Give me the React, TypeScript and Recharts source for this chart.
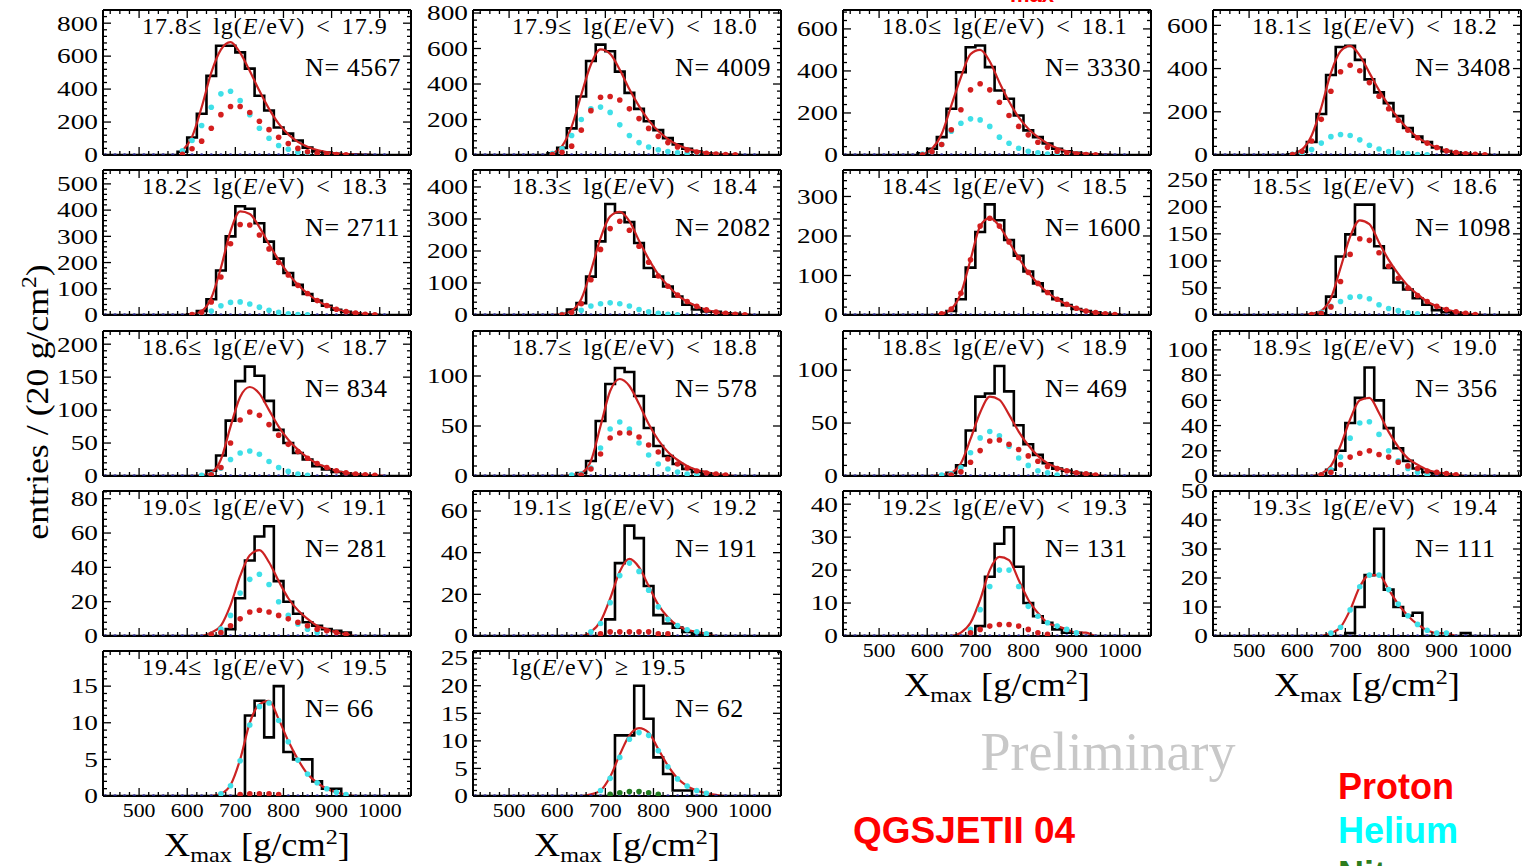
import React from 'react';
import { ComposedChart, Line, Scatter, XAxis, YAxis } from 'recharts';

// bin centres (20 g/cm2 bins) shared by every panel
const binCenters = [590, 610, 630, 650, 670, 690, 710, 730, 750, 770, 790, 810, 830, 850, 870, 890, 910, 930, 950, 970, 990, 1010];
// dark baseline markers (heavier components, ~0 everywhere)
const baseDotX = [430, 450, 470, 490, 510, 530, 550, 570, 590, 610, 630, 650, 670, 690, 710, 730, 750, 770, 790, 810, 830, 850, 870, 890, 910, 930, 950, 970, 990, 1010];
const baseDotY = [0, 0, 0, 0, 0, 0, 0, 0, 0, 0, 0, 0, 0, 0, 0, 0, 0, 0, 0, 0, 0, 0, 0, 0, 0, 0, 0, 0, 0, 0];

const energyEdges = ['17.8', '17.9', '18.0', '18.1', '18.2', '18.3', '18.4', '18.5', '18.6', '18.7', '18.8', '18.9', '19.0', '19.1', '19.2', '19.3', '19.4', '19.5'];
const eventCounts = [4567, 4009, 3330, 3408, 2711, 2082, 1600, 1098, 834, 578, 469, 356, 281, 191, 131, 111, 66, 62];
const yMax = [880, 817, 690, 671, 553, 453, 367, 268, 220, 145, 137, 115, 84.5, 69.6, 44, 50, 19.8, 26.3];
const yStep = [200, 200, 200, 200, 100, 100, 100, 50, 50, 50, 50, 20, 20, 20, 10, 10, 5, 5];
const xTickLabels = [500, 600, 700, 800, 900, 1000];

const histogram = [
  [20, 106, 250, 480, 663, 663, 623, 524, 360, 270, 167, 130, 88, 45, 22, 15, 8, 5, 3, 1, 0, 0],
  [10, 40, 150, 330, 530, 622, 585, 470, 350, 260, 190, 140, 95, 60, 35, 20, 10, 5, 3, 1, 0, 0],
  [8, 30, 85, 220, 394, 513, 521, 418, 307, 268, 188, 117, 85, 55, 30, 18, 10, 5, 3, 1, 0, 0],
  [3, 15, 60, 190, 370, 500, 505, 440, 350, 290, 240, 180, 125, 85, 60, 35, 18, 10, 5, 2, 1, 0],
  [0, 3, 15, 60, 170, 300, 415, 405, 350, 280, 215, 160, 115, 80, 55, 35, 20, 12, 6, 3, 1, 0],
  [0, 0, 17, 37, 120, 230, 347, 320, 290, 225, 147, 120, 89, 58, 32, 17, 11, 10, 5, 4, 1, 0],
  [0, 0, 0, 10, 40, 120, 210, 280, 240, 190, 150, 110, 80, 60, 40, 25, 15, 10, 6, 3, 1, 0],
  [0, 0, 0, 3, 34, 108, 149, 204, 204, 127, 87, 60, 47, 31, 19, 9, 5, 3, 0, 0, 0, 0],
  [0, 0, 0, 8, 31, 84, 144, 166, 152, 114, 70, 50, 35, 25, 15, 10, 6, 4, 2, 1, 0, 0],
  [0, 0, 0, 3, 15, 55, 92, 108, 104, 80, 48, 30, 20, 12, 7, 4, 2, 0, 0, 0, 0, 0],
  [0, 0, 0, 3, 10, 43, 75, 78, 104, 80, 48, 30, 20, 12, 7, 5, 3, 2, 0, 0, 0, 0],
  [0, 0, 0, 0, 5, 20, 42, 62, 86, 60, 38, 22, 12, 6, 3, 2, 0, 0, 0, 0, 0, 0],
  [0, 0, 0, 0, 0, 4, 22, 44, 58, 64, 32, 20, 13, 8, 6, 4, 3, 2, 0, 0, 0, 0],
  [0, 0, 0, 0, 0, 0, 8, 35, 53, 47, 24, 10, 6, 4, 2, 1, 1, 0, 0, 0, 0, 0],
  [0, 0, 0, 0, 0, 0, 3, 18, 28, 33, 21, 10, 6, 4, 2, 1, 1, 0, 0, 0, 0, 0],
  [0, 0, 0, 0, 0, 0, 1, 10, 21, 37, 16, 10, 7, 8, 0, 0, 0, 0, 1, 0, 0, 0],
  [0, 0, 0, 0, 0, 0, 0, 11, 13, 8, 15, 6, 5, 5, 2, 1, 1, 0, 0, 0, 0, 0],
  [0, 0, 0, 0, 0, 0, 0, 11, 11, 20, 14, 7, 4, 1, 1, 0, 0, 0, 0, 0, 0, 0],
];

const fitTotal = [
  [25, 110, 290, 500, 640, 685, 620, 510, 390, 280, 190, 125, 80, 50, 30, 17, 9, 5, 2, 1, 0, 0],
  [10, 50, 160, 340, 510, 595, 570, 480, 370, 275, 195, 135, 90, 58, 36, 22, 12, 6, 3, 1, 0, 0],
  [5, 30, 100, 235, 370, 480, 500, 445, 345, 255, 180, 125, 85, 55, 32, 18, 10, 5, 2, 1, 0, 0],
  [5, 25, 90, 220, 380, 480, 505, 460, 380, 300, 230, 170, 120, 82, 55, 35, 20, 11, 6, 3, 1, 0],
  [0, 3, 15, 65, 180, 320, 395, 385, 335, 270, 210, 158, 115, 82, 55, 36, 22, 13, 7, 3, 1, 0],
  [0, 3, 13, 50, 138, 240, 308, 322, 293, 232, 175, 127, 92, 62, 42, 27, 16, 9, 5, 2, 1, 0],
  [0, 0, 3, 15, 55, 140, 225, 245, 225, 185, 145, 108, 80, 57, 40, 27, 17, 10, 6, 3, 1, 0],
  [0, 0, 2, 8, 31, 87, 145, 175, 168, 134, 102, 76, 54, 38, 25, 16, 10, 6, 3, 1, 0, 0],
  [0, 0, 1, 5, 25, 75, 120, 135, 125, 100, 75, 55, 40, 28, 19, 13, 8, 5, 3, 2, 1, 0],
  [0, 0, 1, 3, 15, 50, 85, 97, 90, 72, 52, 36, 24, 16, 10, 6, 4, 2, 1, 0, 0, 0],
  [0, 0, 1, 3, 12, 35, 60, 75, 72, 58, 42, 29, 19, 12, 8, 5, 3, 2, 1, 0, 0, 0],
  [0, 0, 0, 2, 8, 24, 45, 60, 62, 50, 35, 23, 14, 9, 5, 3, 2, 1, 0, 0, 0, 0],
  [0, 0, 0, 2, 6, 18, 35, 47, 50, 43, 32, 22, 15, 10, 6, 4, 2, 1, 0, 0, 0, 0],
  [0, 0, 0, 0, 2, 7, 18, 31, 37, 33, 24, 15, 9, 5, 3, 2, 1, 0, 0, 0, 0, 0],
  [0, 0, 0, 0, 1, 4, 11, 20, 24, 23, 17, 11, 7, 4, 3, 2, 1, 1, 0, 0, 0, 0],
  [0, 0, 0, 0, 1, 3, 9, 17, 21, 21, 16, 11, 7, 4, 2, 1, 1, 0, 0, 0, 0, 0],
  [0, 0, 0, 0, 0.3, 1.5, 5, 10, 12.5, 13, 10.5, 7.5, 5, 3, 1.8, 1, 0.5, 0.2, 0, 0, 0, 0],
  [0, 0, 0, 0, 0.3, 1, 3.5, 7.5, 11, 12.3, 11.5, 8.5, 5.5, 3.2, 1.8, 1, 0.5, 0.2, 0, 0, 0, 0],
];

const protonComp = [
  [5, 38, 84, 162, 245, 294, 294, 258, 205, 154, 108, 70, 40, 20, 10, 5, 2, 1, 0, 0, 0, 0],
  [2, 15, 50, 140, 250, 325, 330, 310, 260, 205, 150, 105, 70, 45, 28, 17, 10, 5, 2, 1, 0, 0],
  [1, 15, 50, 120, 215, 310, 339, 310, 251, 188, 136, 96, 61, 37, 18, 9, 5, 2, 1, 0, 0, 0],
  [2, 17, 65, 165, 295, 385, 415, 390, 335, 272, 214, 161, 115, 80, 55, 35, 20, 11, 6, 3, 1, 0],
  [0, 2, 10, 50, 145, 272, 345, 343, 305, 252, 200, 153, 113, 82, 55, 36, 22, 13, 7, 3, 1, 0],
  [0, 1, 8, 35, 110, 205, 270, 293, 265, 215, 165, 122, 90, 62, 42, 27, 16, 9, 5, 2, 1, 0],
  [0, 0, 3, 15, 55, 140, 225, 245, 225, 185, 145, 108, 80, 57, 40, 27, 17, 10, 6, 3, 1, 0],
  [0, 0, 1, 3, 15, 62, 112, 141, 138, 115, 90, 68, 50, 36, 25, 16, 10, 6, 3, 1, 0, 0],
  [0, 0, 0, 2, 13, 50, 85, 97, 92, 78, 62, 48, 37, 27, 19, 13, 8, 5, 3, 2, 1, 0],
  [0, 0, 0, 1, 7, 22, 38, 43, 43, 39, 31, 24, 17, 12, 8, 5, 3, 2, 1, 0, 0, 0],
  [0, 0, 0, 1, 4, 13, 24, 33, 34, 30, 25, 19, 14, 9, 7, 5, 3, 2, 1, 0, 0, 0],
  [0, 0, 0, 1, 3, 9, 15, 18, 20, 17, 15, 11, 8, 6, 4, 3, 2, 1, 0, 0, 0, 0],
  [0, 0, 0, 1, 2, 6, 10, 14, 15, 14, 12, 10, 8, 6, 4, 3, 2, 1, 0, 0, 0, 0],
  [0, 0, 0, 0, 0, 1, 2, 2, 2, 2, 2, 1, 1, 0, 0, 0, 0, 0, 0, 0, 0, 0],
  [0, 0, 0, 0, 0, 1, 2, 3, 3.5, 3.5, 3, 2, 1, 0.5, 0, 0, 0, 0, 0, 0, 0, 0],
  [0, 0, 0, 0, 0, 0, 0, 0, 0, 0, 0, 0, 0, 0, 0, 0, 0, 0, 0, 0, 0, 0],
  [0, 0, 0, 0, 0, 0, 0.2, 0.3, 0.3, 0.3, 0.2, 0, 0, 0, 0, 0, 0, 0, 0, 0, 0, 0],
  [0, 0, 0, 0, 0, 0, 0, 0, 0, 0, 0, 0, 0, 0, 0, 0, 0, 0, 0, 0, 0, 0],
];

const heliumComp = [
  [25, 88, 179, 290, 371, 387, 330, 245, 162, 102, 58, 35, 17, 8, 3, 1, 0, 0, 0, 0, 0, 0],
  [8, 35, 110, 200, 260, 270, 240, 170, 110, 70, 45, 30, 20, 13, 8, 5, 2, 1, 0, 0, 0, 0],
  [4, 15, 50, 113, 151, 172, 167, 136, 85, 56, 32, 18, 10, 5, 2, 1, 0, 0, 0, 0, 0, 0],
  [3, 8, 25, 55, 85, 95, 90, 70, 45, 28, 16, 9, 5, 2, 1, 0, 0, 0, 0, 0, 0, 0],
  [0, 1, 5, 15, 35, 48, 50, 42, 30, 18, 10, 5, 2, 1, 0, 0, 0, 0, 0, 0, 0, 0],
  [0, 2, 5, 15, 28, 35, 38, 35, 28, 17, 10, 5, 2, 1, 0, 0, 0, 0, 0, 0, 0, 0],
  [0, 0, 0, 0, 0, 0, 0, 0, 0, 0, 0, 0, 0, 0, 0, 0, 0, 0, 0, 0, 0, 0],
  [0, 0, 1, 5, 16, 25, 33, 34, 30, 19, 12, 8, 4, 2, 0, 0, 0, 0, 0, 0, 0, 0],
  [0, 0, 1, 3, 12, 25, 35, 38, 33, 22, 13, 7, 3, 1, 0, 0, 0, 0, 0, 0, 0, 0],
  [0, 0, 1, 2, 8, 28, 47, 54, 47, 33, 21, 12, 7, 4, 2, 1, 0, 0, 0, 0, 0, 0],
  [0, 0, 1, 2, 8, 22, 36, 42, 38, 28, 17, 10, 5, 3, 1, 0, 0, 0, 0, 0, 0, 0],
  [0, 0, 0, 1, 5, 15, 30, 42, 43, 33, 20, 12, 6, 3, 1, 0, 0, 0, 0, 0, 0, 0],
  [0, 0, 0, 1, 4, 12, 25, 33, 36, 30, 20, 12, 7, 4, 2, 0, 0, 0, 0, 0, 0, 0],
  [0, 0, 0, 0, 2, 6, 16, 29, 35, 31, 22, 14, 8, 5, 3, 2, 1, 0, 0, 0, 0, 0],
  [0, 0, 0, 0, 0, 2, 8, 15, 20, 20, 15, 9, 6, 4, 3, 2, 1, 0, 0, 0, 0, 0],
  [0, 0, 0, 0, 1, 3, 9, 17, 21, 21, 16, 11, 7, 4, 2, 1, 1, 0, 0, 0, 0, 0],
  [0, 0, 0, 0, 0.3, 1.4, 4.8, 9.7, 12.2, 12.7, 10.3, 7.4, 4.9, 3, 1.8, 1, 0.5, 0.2, 0, 0, 0, 0],
  [0, 0, 0, 0, 0, 1, 3.2, 7, 10.3, 11.5, 11, 8.2, 5.3, 3.1, 1.8, 1, 0.5, 0, 0, 0, 0, 0],
];

// nitrogen only shows up (barely) in the last bin
const nitrogenLast = [0, 0, 0, 0, 0, 0, 0.3, 0.6, 0.8, 0.8, 0.6, 0.3, 0, 0, 0, 0, 0, 0, 0, 0, 0, 0];

const X_DOMAIN: [number, number] = [425, 1065];
const COL_LEFT = [103, 473, 843, 1213];
const ROW_TOP = [10, 170, 331, 491, 651];
const PLOT_W = 308;
const PLOT_H = 145;
const Y_AXIS_W = 60;
const PAD = 10;
const X_AXIS_H = 30;

const SERIF = '"Liberation Serif", "Times New Roman", serif';
const SANS = '"Liberation Sans", Arial, sans-serif';

const xMinorTicks: number[] = [];
for (let v = 440; v <= 1060; v += 20) xMinorTicks.push(v);

function yTicksFor(max: number, step: number) {
  const out: number[] = [];
  const minor = step / 5;
  for (let k = 0; k * minor <= max + 1e-6; k++) out.push(Math.round(k * minor * 100) / 100);
  return out;
}

const mkXTick = (side: 'top' | 'bottom', labelled: boolean) => (p: any) => {
  const v = p.payload.value as number;
  const major = xTickLabels.includes(v);
  const len = major ? 8 : 4;
  const d = side === 'bottom' ? -1 : 1;
  return (
    <g>
      <line x1={p.x} x2={p.x} y1={p.y} y2={p.y + d * len} stroke="#000" strokeWidth={1.3} />
      {labelled && major && side === 'bottom' ? (
        <text
          transform={`translate(${p.x},${p.y + 15}) scale(1.15,1)`}
          textAnchor="middle"
          dominantBaseline="central"
          fontSize={19}
          fontFamily={SERIF}
          fill="#000"
        >
          {v}
        </text>
      ) : null}
    </g>
  );
};

const mkYTick = (side: 'left' | 'right', step: number) => (p: any) => {
  const v = p.payload.value as number;
  const major = Math.abs(v / step - Math.round(v / step)) < 1e-6;
  const len = major ? 8 : 4;
  const d = side === 'left' ? 1 : -1;
  return (
    <g>
      <line x1={p.x} x2={p.x + d * len} y1={p.y} y2={p.y} stroke="#000" strokeWidth={1.3} />
      {major && side === 'left' ? (
        <text
          transform={`translate(${p.x - 5},${p.y}) scale(1.3,1)`}
          textAnchor="end"
          dominantBaseline="central"
          fontSize={21}
          fontFamily={SERIF}
          fill="#000"
        >
          {v}
        </text>
      ) : null}
    </g>
  );
};

const dotShape = (color: string, r: number) => (p: any) => (
  <circle cx={p.cx} cy={p.cy} r={r} fill={color} />
);

function Panel({ i }: { i: number }) {
  const row = Math.floor(i / 4);
  const col = i % 4;
  const left = COL_LEFT[col];
  const top = ROW_TOP[row];
  const labelled = i >= 14;
  const yTicks = yTicksFor(yMax[i], yStep[i]);

  const histPts = [
    { x: X_DOMAIN[0], y: 0 },
    ...histogram[i].map((v, k) => ({ x: binCenters[k] - 10, y: v })),
    { x: binCenters[binCenters.length - 1] + 10, y: 0 },
    { x: X_DOMAIN[1], y: 0 },
  ];
  const fitPts = fitTotal[i].map((v, k) => ({ x: binCenters[k], y: v }));
  const pPts = protonComp[i].map((v, k) => ({ x: binCenters[k], y: v })).filter((d) => d.y > 0);
  const hePts = heliumComp[i].map((v, k) => ({ x: binCenters[k], y: v })).filter((d) => d.y > 0);
  const basePts = baseDotX.map((x, k) => ({ x, y: baseDotY[k] }));
  const nPts = i === 17 ? nitrogenLast.map((v, k) => ({ x: binCenters[k], y: v })).filter((d) => d.y > 0) : [];

  const axisLine = { stroke: '#000', strokeWidth: 2 };

  return (
    <div style={{ position: 'absolute', left: left - Y_AXIS_W, top: top - PAD }}>
      <ComposedChart
        width={Y_AXIS_W + PLOT_W + PAD}
        height={PAD + PLOT_H + X_AXIS_H}
        data={histPts}
        margin={{ top: 0, right: 0, bottom: 0, left: 0 }}
      >
        <XAxis
          type="number"
          dataKey="x"
          domain={X_DOMAIN}
          allowDataOverflow
          ticks={xMinorTicks}
          interval={0}
          height={X_AXIS_H}
          tickSize={0}
          tickMargin={0}
          tickLine={false}
          axisLine={axisLine}
          tick={mkXTick('bottom', labelled)}
        />
        <XAxis
          xAxisId="top"
          orientation="top"
          type="number"
          dataKey="x"
          domain={X_DOMAIN}
          allowDataOverflow
          ticks={xMinorTicks}
          interval={0}
          height={PAD}
          tickSize={0}
          tickMargin={0}
          tickLine={false}
          axisLine={axisLine}
          tick={mkXTick('top', false)}
        />
        <YAxis
          type="number"
          dataKey="y"
          domain={[0, yMax[i]]}
          allowDataOverflow
          ticks={yTicks}
          interval={0}
          width={Y_AXIS_W}
          tickSize={0}
          tickMargin={0}
          tickLine={false}
          axisLine={axisLine}
          tick={mkYTick('left', yStep[i])}
        />
        <YAxis
          yAxisId="right"
          orientation="right"
          type="number"
          dataKey="y"
          domain={[0, yMax[i]]}
          allowDataOverflow
          ticks={yTicks}
          interval={0}
          width={PAD}
          tickSize={0}
          tickMargin={0}
          tickLine={false}
          axisLine={axisLine}
          tick={mkYTick('right', yStep[i])}
        />
        <Scatter data={basePts} dataKey="y" shape={dotShape('#22228a', 1.8)} isAnimationActive={false} />
        {hePts.length ? (
          <Scatter data={hePts} dataKey="y" shape={dotShape('#3fe0e8', 2.8)} isAnimationActive={false} />
        ) : null}
        {pPts.length ? (
          <Scatter data={pPts} dataKey="y" shape={dotShape('#d41e1e', 2.8)} isAnimationActive={false} />
        ) : null}
        {nPts.length ? (
          <Scatter data={nPts} dataKey="y" shape={dotShape('#1f7a1f', 2.8)} isAnimationActive={false} />
        ) : null}
        <Line
          dataKey="y"
          type="stepAfter"
          stroke="#000"
          strokeWidth={2.6}
          strokeLinejoin="miter"
          dot={false}
          activeDot={false}
          isAnimationActive={false}
        />
        <Line
          data={fitPts}
          dataKey="y"
          type="monotone"
          stroke="#cc2222"
          strokeWidth={2.2}
          dot={false}
          activeDot={false}
          isAnimationActive={false}
        />
      </ComposedChart>
    </div>
  );
}

function PanelText({ i }: { i: number }) {
  const row = Math.floor(i / 4);
  const col = i % 4;
  const left = COL_LEFT[col];
  const top = ROW_TOP[row];
  const last = i === energyEdges.length - 1;
  return (
    <>
      <div
        style={{
          position: 'absolute',
          left: left + 39,
          top: top + 4,
          fontSize: 24,
          lineHeight: '24px',
          fontFamily: SERIF,
          whiteSpace: 'nowrap',
          letterSpacing: '1px',
          wordSpacing: '4px',
        }}
      >
        {last ? (
          <>
            lg(<i>E</i>/eV) ≥ {energyEdges[i]}
          </>
        ) : (
          <>
            {energyEdges[i]}≤ lg(<i>E</i>/eV) &lt; {energyEdges[i + 1]}
          </>
        )}
      </div>
      <div
        style={{
          position: 'absolute',
          left: left + 202,
          top: top + 45,
          fontSize: 26,
          lineHeight: '26px',
          fontFamily: SERIF,
          whiteSpace: 'nowrap',
          letterSpacing: '0.6px',
        }}
      >
        N= {eventCounts[i]}
      </div>
    </>
  );
}

function XTitle({ cx, cy }: { cx: number; cy: number }) {
  return (
    <div
      style={{
        position: 'absolute',
        left: cx,
        top: cy,
        transform: 'translate(-50%, -50%) scale(1.1, 1)',
        fontSize: 33,
        lineHeight: '33px',
        fontFamily: SERIF,
        whiteSpace: 'nowrap',
      }}
    >
      X<sub style={{ fontSize: 22, verticalAlign: '-6px' }}>max</sub> [g/cm<sup style={{ fontSize: 22, verticalAlign: '12px' }}>2</sup>]
    </div>
  );
}

export default function App() {
  const panels = energyEdges.map((_, i) => i);
  return (
    <div
      style={{
        position: 'absolute',
        left: 0,
        top: 0,
        width: 1523,
        height: 866,
        overflow: 'hidden',
        background: '#fff',
        fontFamily: SERIF,
      }}
    >
      {panels.map((i) => (
        <Panel key={i} i={i} />
      ))}
      {panels.map((i) => (
        <PanelText key={`t${i}`} i={i} />
      ))}

      <XTitle cx={257} cy={845} />
      <XTitle cx={627} cy={845} />
      <XTitle cx={997} cy={685} />
      <XTitle cx={1367} cy={685} />

      <div
        style={{
          position: 'absolute',
          left: 33,
          top: 402,
          transform: 'translate(-50%, -50%) rotate(-90deg) scale(1.12, 1)',
          fontSize: 32,
          lineHeight: '32px',
          fontFamily: SERIF,
          whiteSpace: 'nowrap',
        }}
      >
        entries / (20 g/cm<sup style={{ fontSize: 21, verticalAlign: '12px' }}>2</sup>)
      </div>

      <div
        style={{
          position: 'absolute',
          left: 1108,
          top: 752,
          transform: 'translate(-50%, -50%)',
          fontSize: 54,
          lineHeight: '54px',
          fontFamily: SERIF,
          color: '#c8c8c8',
          whiteSpace: 'nowrap',
        }}
      >
        Preliminary
      </div>

      <div
        style={{
          position: 'absolute',
          left: 1032,
          top: -16,
          transform: 'translateX(-50%)',
          fontSize: 22,
          lineHeight: '22px',
          fontFamily: SANS,
          fontWeight: 700,
          color: '#ff0000',
        }}
      >
        max
      </div>

      <div style={{ position: 'absolute', left: 853, top: 812, fontSize: 37, lineHeight: '37px', fontFamily: SANS, fontWeight: 700, color: '#ff0000', whiteSpace: 'nowrap' }}>
        QGSJETII 04
      </div>
      <div style={{ position: 'absolute', left: 1338, top: 769, fontSize: 36, lineHeight: '36px', fontFamily: SANS, fontWeight: 700, color: '#ff0000' }}>
        Proton
      </div>
      <div style={{ position: 'absolute', left: 1338, top: 813, fontSize: 36, lineHeight: '36px', fontFamily: SANS, fontWeight: 700, color: '#00ffff' }}>
        Helium
      </div>
      <div style={{ position: 'absolute', left: 1338, top: 857, fontSize: 36, lineHeight: '36px', fontFamily: SANS, fontWeight: 700, color: '#2e7d1e' }}>
        Nitrogen
      </div>
    </div>
  );
}
